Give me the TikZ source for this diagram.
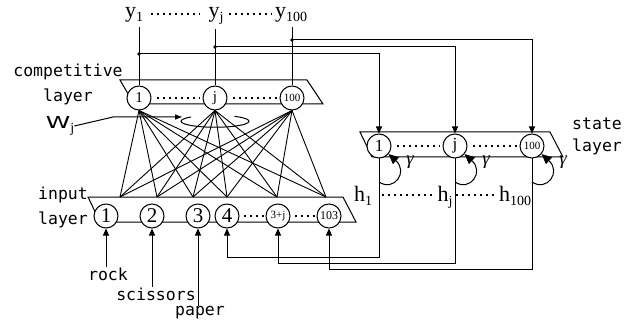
\documentclass[tikz,border=0pt]{standalone}
\usepackage{fontspec}
\setmainfont{Liberation Serif}
\newfontfamily\gothic{DejaVu Sans Mono}
\newfontfamily\gothicw{DejaVu Sans}
\usepackage{tikz}
\usetikzlibrary{arrows.meta}

\newcommand{\lowidx}[1]{{\rmfamily\fontsize{14}{14}\selectfont\raisebox{-4pt}{#1}}}

\tikzset{
  unit/.style={circle,draw,line width=1pt,fill=white,inner sep=0pt,minimum size=24pt},
  layerbox/.style={draw,line width=1pt},
  wire/.style={line width=1pt},
  feed/.style={wire,-{Triangle[length=7pt,width=6pt]}},
  selfloop/.style={wire,-{Triangle[length=10pt,width=9pt]}},
  dotrow/.style={line width=2.2pt,dash pattern=on 2.2pt off 3.8pt},
  gothtxt/.style={font=\gothic\fontsize{16.5}{25}\selectfont,inner sep=0pt},
  sertxt/.style={font=\fontsize{22}{22}\selectfont,inner sep=0pt,anchor=base}
}

\begin{document}
\begin{tikzpicture}[x=1pt,y=-1pt]
  \useasboundingbox (0,0) rectangle (633,329);
  % --- layer boxes
  \draw[layerbox] (120,80) -- (307,80) -- (323,104) -- (134,104) -- cycle;
  \draw[layerbox] (360,132) -- (550,132) -- (563,157) -- (372,157) -- cycle;
  \draw[layerbox] (88,197) -- (343,197) -- (356,222) -- (100,222) -- cycle;

  % --- competitive layer
  \node[unit,font=\fontsize{15}{15}\selectfont] (c1) at (139,98) {1};
  \node[unit,font=\fontsize{15}{15}\selectfont] (cj) at (215,98) {j};
  \node[unit,font=\fontsize{11}{11}\selectfont] (c100) at (292,98) {100};
  \draw[dotrow,shorten <=5pt,shorten >=3pt] (c1) -- (cj);
  \draw[dotrow,shorten <=5pt,shorten >=3pt] (cj) -- (c100);

  % --- state layer
  \node[unit,font=\fontsize{17}{17}\selectfont] (s1) at (379,146) {1};
  \node[unit,font=\fontsize{17}{17}\selectfont] (sj) at (455,146) {j};
  \node[unit,font=\fontsize{11}{11}\selectfont] (s100) at (532,146) {100};
  \draw[dotrow,shorten <=5pt,shorten >=3pt] (s1) -- (sj);
  \draw[dotrow,shorten <=5pt,shorten >=3pt] (sj) -- (s100);

  % --- input layer
  \node[unit,font=\fontsize{21}{21}\selectfont] (i1) at (106,216) {1};
  \node[unit,font=\fontsize{21}{21}\selectfont] (i2) at (152,216) {2};
  \node[unit,font=\fontsize{21}{21}\selectfont] (i3) at (198,216) {3};
  \node[unit,font=\fontsize{21}{21}\selectfont] (i4) at (227,216) {4};
  \node[unit,font=\fontsize{11}{11}\selectfont] (ij) at (278,216) {3+j};
  \node[unit,font=\fontsize{12}{12}\selectfont] (i103) at (329,216) {103};
  \draw[dotrow,shorten <=4pt,shorten >=2pt] (i4) -- (ij);
  \draw[dotrow,shorten <=4pt,shorten >=2pt] (ij) -- (i103);

  % --- layer names
  \node[gothtxt,align=center] (complbl) at (68,84) {competitive\\layer};
  \node[gothtxt,align=left,anchor=west] (inlbl) at (38,207) {input\\layer};
  \node[gothtxt,font=\gothic\fontsize{16.5}{22}\selectfont,align=left,anchor=west] (stlbl) at (572,136) {state\\layer};

  % --- outputs y and their copies to the state layer
  \node[sertxt] (y1) at (134,18) {y\lowidx{1}};
  \node[sertxt] (yj) at (216,18) {y\lowidx{j}};
  \node[sertxt] (y100) at (291,18) {y\lowidx{100}};
  \draw[dotrow,shorten <=8pt,shorten >=8pt] ([yshift=4pt]y1.base east) -- ([yshift=4pt]yj.base west);
  \draw[dotrow,shorten <=5pt,shorten >=4pt] ([yshift=4pt]yj.base east) -- ([yshift=4pt]y100.base west);
  \draw[wire,shorten <=4pt] (y1.south -| c1) -- (c1);
  \draw[wire,shorten <=4pt] (yj.south -| cj) -- (cj);
  \draw[wire,shorten <=4pt] (y100.south -| c100) -- (c100);
  \coordinate (b1) at (139,54);
  \coordinate (bj) at (215,47);
  \coordinate (b100) at (292,40);
  \foreach \b in {b1,bj,b100}
    \fill (\b) circle (1.8pt);
  \draw[feed] (b1) -| (s1);
  \draw[feed] (bj) -| (sj);
  \draw[feed] (b100) -| (s100);

  % --- full connection input -> competitive
  \foreach \k/\x in {1/120,2/157,3/193,4/227,5/277,6/326}
    \coordinate (t\k) at (\x,197);
  \foreach \c in {c1,cj,c100}
    \foreach \k in {1,...,6}
      \draw[line width=0.9pt] (\c.south) -- (t\k);
  \draw[wire] (191,117) arc[start angle=135,end angle=415,x radius=34pt,y radius=6pt];

  % --- weight label
  \node[gothtxt] (w) at (60,126) {\gothicw\scalebox{1.5}[1]{W}\lowidx{j}};
  \coordinate (wk) at (113,117);
  \coordinate (wt) at (182,117);
  \draw[wire,-{Triangle[length=7pt,width=5pt]}] (w.east) -- (wk) -- (wt);

  % --- self loops gamma and states h
  \foreach \s in {s1,sj,s100}{
    \coordinate (g\s) at ([yshift=-36pt]\s.center);
    \draw[selfloop] (g\s) .. controls +(15,10) and +(20,18) .. (\s.-40);
    \node[font=\itshape\fontsize{19}{19}\selectfont,inner sep=0pt] (gam\s) at ([shift={(31,16)}]\s.center) {γ};
  }
  \node[sertxt] (h1) at (363,201) {h\lowidx{1}};
  \node[sertxt] (hj) at (445,201) {h\lowidx{j}};
  \node[sertxt] (h100) at (515,201) {h\lowidx{100}};
  \draw[dotrow,shorten <=10pt,shorten >=5pt] ([yshift=6pt]h1.base east) -- ([yshift=6pt]hj.base west);
  \draw[dotrow,shorten <=3pt,shorten >=5pt] ([yshift=6pt]hj.base east) -- ([yshift=6pt]h100.base west);

  % --- states back to the input layer
  \draw[feed] (s1) -- ++(0,111) -| (i4);
  \draw[feed] (sj) -- ++(0,117) -| (ij);
  \draw[feed] (s100) -- ++(0,123) -| (i103);

  % --- external inputs
  \node[gothtxt] (rock) at (108,274) {rock};
  \node[gothtxt] (scis) at (156,294) {scissors};
  \node[gothtxt] (paper) at (200,313) {paper};
  \draw[feed] (rock.north -| i1) -- (i1);
  \draw[feed] (scis.north -| i2) -- (i2);
  \draw[feed] (paper.north -| i3) -- (i3);
\end{tikzpicture}
\end{document}
